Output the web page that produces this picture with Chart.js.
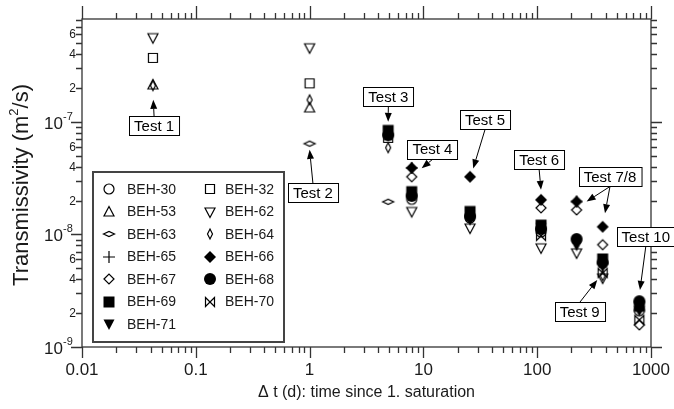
<!DOCTYPE html>
<html>
<head>
<meta charset="utf-8">
<script src="https://cdn.jsdelivr.net/npm/chart.js@4.4.0/dist/chart.umd.min.js"></script>
<style>
html, body { margin: 0; padding: 0; background: #fff; }
</style>
</head>
<body>
<canvas id="chart" width="674" height="409"></canvas>
<script>
// time since 1. saturation (d) for Test 1..8 and Test 10
const testTimes = [0.042, 1, 4.9, 7.9, 25.7, 108, 222, 376, 790];

// transmissivity (m2/s) per borehole, one value per test time
const beh30 = [null, null, null, 2.05e-8, 1.4e-8, 1.05e-8, null, null, 2.1e-9];
const beh32 = [3.7e-7, 2.2e-7, 7.2e-8, null, null, null, null, null, null];
const beh53 = [2.13e-7, 1.33e-7, null, null, null, null, null, null, null];
const beh62 = [5.6e-7, 4.55e-7, null, 1.6e-8, 1.14e-8, 7.6e-9, 6.85e-9, 4.1e-9, null];
const beh63 = [null, 6.4e-8, 1.95e-8, null, null, null, null, null, null];
const beh64 = [2.1e-7, 1.57e-7, 5.9e-8, null, null, null, null, 4.3e-9, null];
const beh65 = [null, null, null, 3.9e-8, null, null, 1.96e-8, null, null];
const beh66 = [null, null, null, 3.9e-8, 3.25e-8, 2.03e-8, 1.96e-8, 1.17e-8, null];
const beh67 = [null, null, null, 3.25e-8, null, 1.72e-8, 1.65e-8, 8.1e-9, 1.57e-9];
const beh68 = [null, null, 7.6e-8, 2.2e-8, 1.45e-8, 1.12e-8, 9.1e-9, 5.6e-9, 2.55e-9];
const beh69 = [null, null, 8.4e-8, 2.4e-8, 1.6e-8, 1.21e-8, null, 6.05e-9, 2.3e-9];
const beh70 = [null, null, null, null, null, 9.7e-9, null, 4.55e-9, 1.74e-9];
const beh71 = [null, null, null, null, 1.35e-8, 1.15e-8, 8.0e-9, 5.2e-9, 2.1e-9];

const seriesNames = ['BEH-30', 'BEH-32', 'BEH-53', 'BEH-62', 'BEH-63', 'BEH-64', 'BEH-65',
    'BEH-66', 'BEH-67', 'BEH-68', 'BEH-69', 'BEH-70', 'BEH-71'];
const seriesValues = [beh30, beh32, beh53, beh62, beh63, beh64, beh65,
    beh66, beh67, beh68, beh69, beh70, beh71];
const seriesMarkers = ['circle', 'square', 'tri', 'triDown', 'hDiamond', 'vDiamond', 'plus',
    'diamondF', 'diamond', 'circleF', 'squareF', 'bowtie', 'triDownF'];

const xMajorTicks = [0.01, 0.1, 1, 10, 100, 1000];
const xTickLabels = ['0.01', '0.1', '1', '10', '100', '1000'];
const yMajorTicks = [1e-9, 1e-8, 1e-7];
const yTickExponents = ['-9', '-8', '-7'];
const yMinorLabels = [2, 4, 6];

// "Test n" callouts: box centre and arrow tips in data units
const callouts = [
    { text: 'Test 1', box: [0.043, 9.3e-8], tips: [[0.0423, 1.57e-7]] },
    { text: 'Test 2', box: [1.07, 2.34e-8], tips: [[1.0, 5.64e-8]] },
    { text: 'Test 3', box: [4.92, 1.68e-7], tips: [[4.9, 1.0e-7]] },
    { text: 'Test 4', box: [12.0, 5.73e-8], tips: [[9.66, 3.87e-8]] },
    { text: 'Test 5', box: [34.8, 1.05e-7], tips: [[27.4, 3.86e-8]] },
    { text: 'Test 6', box: [104, 4.59e-8], tips: [[108, 2.49e-8]] },
    { text: 'Test 7/8', box: [436, 3.27e-8], tips: [[272, 1.96e-8], [394, 1.54e-8]] },
    { text: 'Test 9', box: [236, 2.05e-9], tips: [[337, 3.94e-9]] },
    { text: 'Test 10', box: [900, 9.55e-9], tips: [[800, 3.21e-9]] }
];

const FONT = '"Liberation Sans", Arial, sans-serif';
const INK = '#1a1a1a';

function makeMarker(kind) {
    const c = document.createElement('canvas');
    c.width = 16;
    c.height = 16;
    const g = c.getContext('2d');
    g.translate(8, 8);
    g.lineWidth = 1.2;
    g.strokeStyle = '#000';
    g.fillStyle = '#000';
    g.beginPath();
    switch (kind) {
        case 'circle': g.arc(0, 0, 5, 0, 2 * Math.PI); g.stroke(); break;
        case 'circleF': g.arc(0, 0, 6, 0, 2 * Math.PI); g.fill(); break;
        case 'square': g.rect(-4.5, -4.5, 9, 9); g.stroke(); break;
        case 'squareF': g.rect(-5.5, -5.5, 11, 11); g.fill(); break;
        case 'tri':
            g.moveTo(0, -5.5); g.lineTo(5, 4); g.lineTo(-5, 4); g.closePath(); g.stroke(); break;
        case 'triDown':
            g.moveTo(0, 5.5); g.lineTo(5, -4); g.lineTo(-5, -4); g.closePath(); g.stroke(); break;
        case 'triDownF':
            g.moveTo(0, 6); g.lineTo(5.5, -4.5); g.lineTo(-5.5, -4.5); g.closePath(); g.fill(); break;
        case 'hDiamond':
            g.moveTo(-5.5, 0); g.lineTo(0, -2.5); g.lineTo(5.5, 0); g.lineTo(0, 2.5); g.closePath(); g.stroke(); break;
        case 'vDiamond':
            g.moveTo(0, -5); g.lineTo(2.5, 0); g.lineTo(0, 5); g.lineTo(-2.5, 0); g.closePath(); g.stroke(); break;
        case 'plus':
            g.moveTo(-6, 0); g.lineTo(6, 0); g.moveTo(0, -6); g.lineTo(0, 6); g.stroke(); break;
        case 'diamond':
            g.moveTo(-5, 0); g.lineTo(0, -5); g.lineTo(5, 0); g.lineTo(0, 5); g.closePath(); g.stroke(); break;
        case 'diamondF':
            g.moveTo(-6, 0); g.lineTo(0, -6); g.lineTo(6, 0); g.lineTo(0, 6); g.closePath(); g.fill(); break;
        case 'bowtie':
            g.moveTo(-4.5, -4.5); g.lineTo(4.5, 4.5); g.lineTo(4.5, -4.5); g.lineTo(-4.5, 4.5);
            g.closePath(); g.stroke(); break;
    }
    return c;
}

const markerImages = seriesMarkers.map(makeMarker);

function minorValues(min, max) {
    const out = [];
    for (let e = Math.floor(Math.log10(min)); e <= Math.ceil(Math.log10(max)); e++) {
        for (let m = 2; m <= 9; m++) {
            const v = m * Math.pow(10, e);
            if (v > min * 1.0001 && v < max * 0.9999) out.push({ v, m });
        }
    }
    return out;
}

function arrow(ctx, x0, y0, x1, y1) {
    const ang = Math.atan2(y1 - y0, x1 - x0);
    const len = 9, half = 3.5;
    const bx = x1 - Math.cos(ang) * len, by = y1 - Math.sin(ang) * len;
    ctx.beginPath();
    ctx.moveTo(x0, y0);
    ctx.lineTo(bx, by);
    ctx.stroke();
    ctx.beginPath();
    ctx.moveTo(x1, y1);
    ctx.lineTo(bx - Math.sin(ang) * half, by + Math.cos(ang) * half);
    ctx.lineTo(bx + Math.sin(ang) * half, by - Math.cos(ang) * half);
    ctx.closePath();
    ctx.fill();
}

const axesPlugin = {
    id: 'axesPlugin',
    afterDraw(chart) {
        const ctx = chart.ctx;
        const a = chart.chartArea;
        const xs = chart.scales.x, ys = chart.scales.y;
        ctx.save();
        ctx.strokeStyle = '#333';
        ctx.fillStyle = INK;
        ctx.lineWidth = 1.3;
        ctx.strokeRect(a.left, a.top, a.right - a.left, a.bottom - a.top);

        // x ticks (bottom and top, outward)
        ctx.beginPath();
        xMajorTicks.forEach(v => {
            const px = Math.round(xs.getPixelForValue(v)) + 0.5;
            ctx.moveTo(px, a.bottom); ctx.lineTo(px, a.bottom + 11);
            ctx.moveTo(px, a.top); ctx.lineTo(px, a.top - 13);
        });
        minorValues(xs.min, xs.max).forEach(({ v }) => {
            const px = Math.round(xs.getPixelForValue(v)) + 0.5;
            ctx.moveTo(px, a.bottom); ctx.lineTo(px, a.bottom + 6);
            ctx.moveTo(px, a.top); ctx.lineTo(px, a.top - 6);
        });
        // y ticks (left and right, outward)
        yMajorTicks.forEach(v => {
            const py = Math.round(ys.getPixelForValue(v)) + 0.5;
            ctx.moveTo(a.left, py); ctx.lineTo(a.left - 11, py);
            ctx.moveTo(a.right, py); ctx.lineTo(a.right + 11, py);
        });
        minorValues(ys.min, ys.max).forEach(({ v }) => {
            const py = Math.round(ys.getPixelForValue(v)) + 0.5;
            ctx.moveTo(a.left, py); ctx.lineTo(a.left - 6, py);
            ctx.moveTo(a.right, py); ctx.lineTo(a.right + 6, py);
        });
        ctx.stroke();

        // x tick labels
        ctx.font = '17px ' + FONT;
        ctx.textAlign = 'center';
        ctx.textBaseline = 'alphabetic';
        xMajorTicks.forEach((v, i) => {
            ctx.fillText(xTickLabels[i], xs.getPixelForValue(v), a.bottom + 28);
        });

        // y tick labels
        yMajorTicks.forEach((v, i) => {
            const py = ys.getPixelForValue(v);
            ctx.font = '17px ' + FONT;
            ctx.textAlign = 'right';
            ctx.fillText('10', a.left - 19, py + 7);
            ctx.font = '11px ' + FONT;
            ctx.textAlign = 'left';
            ctx.fillText(yTickExponents[i], a.left - 19, py - 2);
        });
        ctx.font = '12px ' + FONT;
        ctx.textAlign = 'right';
        minorValues(ys.min, ys.max).forEach(({ v, m }) => {
            if (yMinorLabels.includes(m)) ctx.fillText(String(m), a.left - 6, ys.getPixelForValue(v) + 4);
        });

        // axis titles
        ctx.font = '16px ' + FONT;
        ctx.textAlign = 'center';
        ctx.fillText('\u0394 t (d): time since 1. saturation', (a.left + a.right) / 2, a.bottom + 50);

        ctx.save();
        ctx.translate(28, (a.top + a.bottom) / 2 + 2);
        ctx.rotate(-Math.PI / 2);
        const p1 = 'Transmissivity (m', p2 = '/s)';
        ctx.font = '22px ' + FONT;
        const w1 = ctx.measureText(p1).width, w3 = ctx.measureText(p2).width;
        ctx.font = '13px ' + FONT;
        const w2 = ctx.measureText('2').width;
        const x0 = -(w1 + w2 + w3) / 2;
        ctx.textAlign = 'left';
        ctx.font = '22px ' + FONT;
        ctx.fillText(p1, x0, 0);
        ctx.font = '13px ' + FONT;
        ctx.fillText('2', x0 + w1, -10);
        ctx.font = '22px ' + FONT;
        ctx.fillText(p2, x0 + w1 + w2, 0);
        ctx.restore();

        // legend box
        const lx = 93, ly = 172, lw = 191, lh = 170;
        ctx.lineWidth = 2;
        ctx.strokeStyle = '#444';
        ctx.strokeRect(lx, ly, lw, lh);
        ctx.font = '14px ' + FONT;
        ctx.textAlign = 'left';
        ctx.textBaseline = 'middle';
        seriesNames.forEach((name, i) => {
            const col = i % 2, row = Math.floor(i / 2);
            const cy = ly + 17 + row * 22.5;
            const mx = col === 0 ? lx + 15.5 : lx + 117;
            const tx = col === 0 ? lx + 34 : lx + 132;
            const img = markerImages[i];
            ctx.drawImage(img, Math.round(mx - img.width / 2), Math.round(cy - img.height / 2));
            ctx.fillText(name, tx, cy + 1);
        });

        // callouts
        ctx.lineWidth = 1;
        ctx.strokeStyle = '#000';
        ctx.fillStyle = '#000';
        ctx.font = '15px ' + FONT;
        ctx.textAlign = 'center';
        ctx.textBaseline = 'middle';
        callouts.forEach(c => {
            const cx = xs.getPixelForValue(c.box[0]);
            const cy = ys.getPixelForValue(c.box[1]);
            const w = ctx.measureText(c.text).width + 10, h = 19;
            const bx = Math.round(cx - w / 2) + 0.5, by = Math.round(cy - h / 2) + 0.5;
            ctx.fillStyle = '#fff';
            ctx.fillRect(bx, by, w, h);
            ctx.strokeRect(bx, by, w, h);
            ctx.fillStyle = '#000';
            ctx.fillText(c.text, cx, cy + 1);
            c.tips.forEach(tp => {
                const tx = xs.getPixelForValue(tp[0]);
                const ty = ys.getPixelForValue(tp[1]);
                const sy = ty < cy ? by : by + h;
                arrow(ctx, cx, sy, tx, ty);
            });
        });
        ctx.restore();
    }
};

const datasets = seriesNames.map((name, i) => ({
    label: name,
    data: testTimes
        .map((t, j) => ({ x: t, y: seriesValues[i][j] }))
        .filter(p => p.y !== null),
    pointStyle: markerImages[i],
    pointRadius: 6,
    pointHoverRadius: 6,
    showLine: false
}));

new Chart(document.getElementById('chart').getContext('2d'), {
    type: 'scatter',
    data: { datasets },
    options: {
        responsive: false,
        animation: false,
        devicePixelRatio: 1,
        layout: { padding: { left: 82, right: 23, top: 19, bottom: 62 } },
        plugins: { legend: { display: false }, tooltip: { enabled: false } },
        scales: {
            x: { type: 'logarithmic', min: 0.01, max: 1000, display: false },
            y: { type: 'logarithmic', min: 1e-9, max: 8.2e-7, display: false }
        }
    },
    plugins: [axesPlugin]
});
</script>
</body>
</html>
